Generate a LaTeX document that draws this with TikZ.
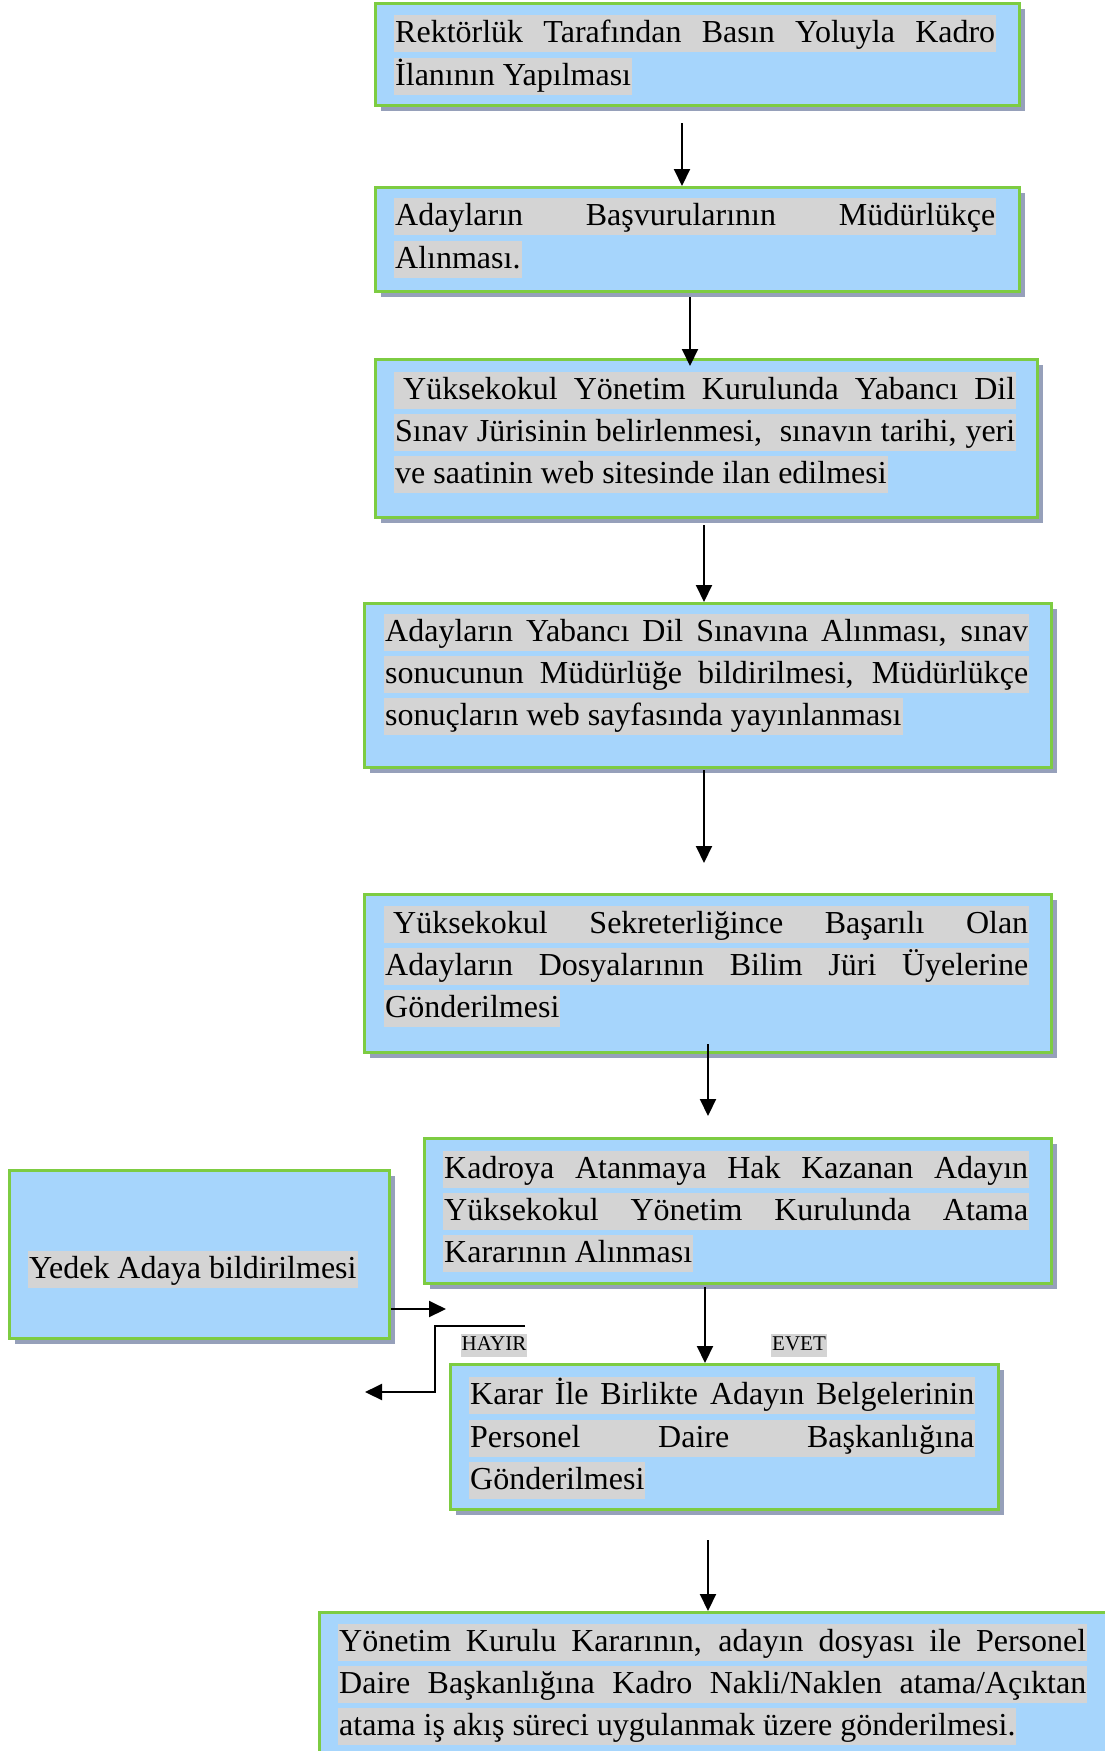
\documentclass[tikz,border=0pt]{standalone}
\usepackage{fontspec}
\setmainfont{Liberation Serif}
\usetikzlibrary{arrows.meta,shadows}
\definecolor{boxfill}{RGB}{166,213,252}
\definecolor{boxline}{RGB}{125,204,66}
\definecolor{shadecol}{RGB}{150,160,186}
\definecolor{hlgray}{RGB}{212,212,212}
% a justified line of the given width
\newcommand{\jline}[2]{\makebox[#1][s]{#2}}
\begin{document}
\begin{tikzpicture}[x=1pt,y=-1pt,
  flowbox/.style={draw=boxline, line width=3pt, fill=boxfill, anchor=north west, inner sep=0pt,
    drop shadow={shadow xshift=5pt, shadow yshift=-5pt, fill=shadecol, opacity=1}},
  hl/.style={fill=hlgray, inner xsep=1pt, inner ysep=0pt, text height=28pt, text depth=9pt,
    anchor=west, font=\fontsize{32}{40}\selectfont},
  tag/.style={fill=hlgray, inner xsep=1pt, inner ysep=0pt, text height=17pt, text depth=6pt,
    font=\fontsize{21}{24}\selectfont},
  arr/.style={line width=2pt, -{Triangle[width=16pt,length=17pt]}}]

\useasboundingbox[fill=white] (0,0) rectangle (1105,1751);

% process boxes
\node[flowbox, minimum width=644pt, minimum height=102pt] (b1) at (374,2) {};
\node[flowbox, minimum width=644pt, minimum height=104pt] (b2) at (374,186) {};
\node[flowbox, minimum width=662pt, minimum height=158pt] (b3) at (374,358) {};
\node[flowbox, minimum width=687pt, minimum height=164pt] (b4) at (363,602) {};
\node[flowbox, minimum width=687pt, minimum height=158pt] (b5) at (363,893) {};
\node[flowbox, minimum width=627pt, minimum height=145pt] (b6) at (423,1137) {};
\node[flowbox, minimum width=380pt, minimum height=168pt] (yd) at (8,1169) {};
\node[flowbox, minimum width=548pt, minimum height=145pt] (b7) at (449,1363) {};
\node[flowbox, minimum width=812pt, minimum height=200pt] (b8) at (318,1611) {};

% texts
\node[hl] (t1a) at (394,33) {\jline{600pt}{Rektörlük Tarafından Basın Yoluyla Kadro}};
\node[hl] (t1b) at (394,76) {İlanının Yapılması};

\node[hl] (t2a) at (394,216) {\jline{600pt}{Adayların Başvurularının Müdürlükçe}};
\node[hl] (t2b) at (394,259) {Alınması.};

\node[hl] (t3a) at (394,390) {\jline{620pt}{\hspace*{8pt}Yüksekokul Yönetim Kurulunda Yabancı Dil}};
\node[hl] (t3b) at (394,432) {\jline{620pt}{Sınav Jürisinin belirlenmesi, \ sınavın tarihi, yeri}};
\node[hl] (t3c) at (394,474) {ve saatinin web sitesinde ilan edilmesi};

\node[hl] (t4a) at (384,632) {\jline{643pt}{Adayların Yabancı Dil Sınavına Alınması, sınav}};
\node[hl] (t4b) at (384,674) {\jline{643pt}{sonucunun Müdürlüğe bildirilmesi, Müdürlükçe}};
\node[hl] (t4c) at (384,716) {sonuçların web sayfasında yayınlanması};

\node[hl] (t5a) at (384,924) {\jline{643pt}{\hspace*{8pt}Yüksekokul Sekreterliğince Başarılı Olan}};
\node[hl] (t5b) at (384,966) {\jline{643pt}{Adayların Dosyalarının Bilim Jüri Üyelerine}};
\node[hl] (t5c) at (384,1008) {Gönderilmesi};

\node[hl] (t6a) at (443,1169) {\jline{584pt}{Kadroya Atanmaya Hak Kazanan Adayın}};
\node[hl] (t6b) at (443,1211) {\jline{584pt}{Yüksekokul Yönetim Kurulunda Atama}};
\node[hl] (t6c) at (443,1253) {Kararının Alınması};

\node[hl] (tyd) at (28,1269) {Yedek Adaya bildirilmesi};

\node[hl] (t7a) at (469,1395) {\jline{504pt}{Karar İle Birlikte Adayın Belgelerinin}};
\node[hl] (t7b) at (469,1438) {\jline{504pt}{Personel Daire Başkanlığına}};
\node[hl] (t7c) at (469,1480) {Gönderilmesi};

\node[hl] (t8a) at (338,1642) {\jline{747pt}{Yönetim Kurulu Kararının, adayın dosyası ile Personel}};
\node[hl] (t8b) at (338,1684) {\jline{747pt}{Daire Başkanlığına Kadro Nakli/Naklen atama/Açıktan}};
\node[hl] (t8c) at (338,1726) {atama iş akış süreci uygulanmak üzere gönderilmesi.};

% decision labels
\node[tag] (hayir) at (494,1345) {HAYIR};
\node[tag] (evet) at (799,1345) {EVET};

% connectors
\coordinate (a1) at (682,123);
\draw[arr] (a1) -- (a1 |- b2.north);
\coordinate (a2) at (690,297);
\coordinate (a2e) at (690,366);
\draw[arr] (a2) -- (a2e);
\coordinate (a3) at (704,525);
\draw[arr] (a3) -- (a3 |- b4.north);
\coordinate (a4) at (704,770);
\coordinate (a4e) at (704,863);
\draw[arr] (a4) -- (a4e);
\coordinate (a5) at (708,1044);
\coordinate (a5e) at (708,1116);
\draw[arr] (a5) -- (a5e);
\coordinate (a6) at (705,1287);
\draw[arr] (a6) -- (a6 |- b7.north);
\coordinate (a7) at (708,1540);
\draw[arr] (a7) -- (a7 |- b8.north);

\coordinate (ya) at (446,1309);
\draw[arr] (yd.east |- ya) -- (ya);
\coordinate (h1) at (525,1326);
\coordinate (hb) at (435,1326);
\coordinate (h2) at (365,1392);
\draw[arr] (h1) -- (hb) |- (h2);
\end{tikzpicture}
\end{document}
